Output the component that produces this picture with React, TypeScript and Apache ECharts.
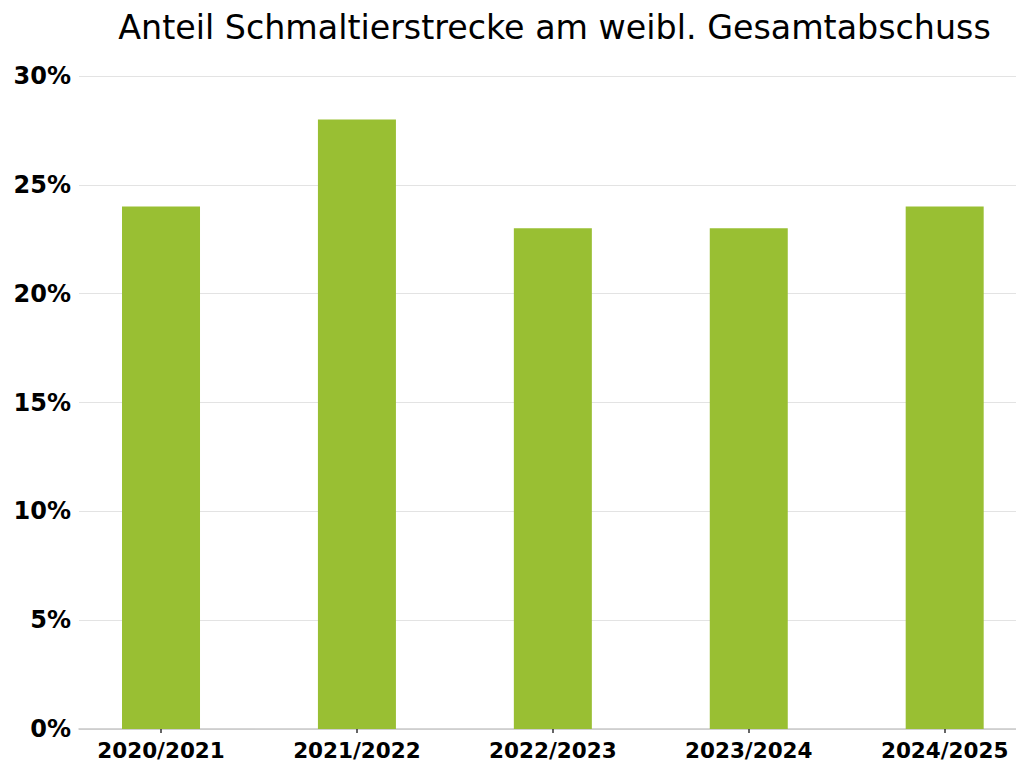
import React, { useEffect, useRef } from "react";
import * as echarts from "echarts";

const categories = ["2020/2021", "2021/2022", "2022/2023", "2023/2024", "2024/2025"];
const shares = [24, 28, 23, 23, 24];
const yTicks = [0, 5, 10, 15, 20, 25, 30];
const titleText = "Anteil Schmaltierstrecke am weibl. Gesamtabschuss";

export default function App() {
  const ref = useRef<HTMLDivElement>(null);
  useEffect(() => {
    if (!ref.current) return;
    const chart = echarts.init(ref.current, null, { renderer: "svg" });
    const positions = categories.map((_, i) => i);
    chart.setOption({
      animation: false,
      backgroundColor: "#ffffff",
      title: {
        text: titleText,
        left: 549.5,
        top: 6,
        textAlign: "center",
        textStyle: {
          fontFamily: "DejaVu Sans",
          fontSize: 33.3,
          fontWeight: "normal",
          color: "#000000",
        },
      },
      grid: { left: 79, right: 0, top: 76, bottom: 33, containLabel: false },
      xAxis: {
        type: "value",
        min: -0.4186,
        max: 4.364,
        splitLine: { show: false },
        axisLine: { show: true, onZero: false, lineStyle: { color: "#c8c8c8", width: 1.5 } },
        axisTick: {
          show: true,
          customValues: positions,
          length: 4,
          lineStyle: { color: "#333333", width: 1.5 },
        },
        axisLabel: {
          customValues: positions,
          formatter: (v: number) => categories[Math.round(v)] ?? "",
          fontFamily: "DejaVu Sans",
          fontWeight: "bold",
          fontSize: 21.5,
          color: "#000000",
          margin: 10,
        },
      },
      yAxis: {
        type: "value",
        min: 0,
        max: 30,
        interval: 5,
        axisLine: { show: false },
        axisTick: { show: false },
        splitLine: { show: true, lineStyle: { color: "#e3e3e3", width: 1 } },
        axisLabel: {
          formatter: (v: number) => (yTicks.includes(v) ? v + "%" : ""),
          fontFamily: "DejaVu Sans",
          fontWeight: "bold",
          fontSize: 24,
          color: "#000000",
          margin: 8,
        },
      },
      series: [
        {
          type: "bar",
          data: shares.map((v, i) => [i, v]),
          barWidth: 78,
          itemStyle: { color: "#99bf33" },
        },
      ],
    });
    return () => chart.dispose();
  }, []);
  return <div ref={ref} style={{ width: 1016, height: 762, position: "fixed", left: 0, top: 0 }} />;
}
